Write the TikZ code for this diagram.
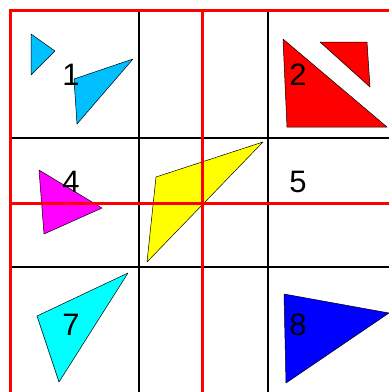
\documentclass[tikz,border=0pt]{standalone}
\usepackage{fontspec}
\setmainfont{Liberation Sans}
\definecolor{skyblue}{RGB}{0,191,255}
\definecolor{aqua}{RGB}{0,255,255}
\definecolor{fuchsia}{RGB}{255,0,255}
\definecolor{pureyellow}{RGB}{255,255,0}
\definecolor{purered}{RGB}{255,0,0}
\definecolor{pureblue}{RGB}{0,0,255}
\tikzset{
  piece/.style={draw=black,line width=0.5pt,line join=round},
  gridline/.style={draw=black,line width=1.5pt},
  redline/.style={draw=purered,line width=3pt},
  numlabel/.style={inner sep=0pt,font=\fontsize{31}{31}\selectfont}
}
\begin{document}
\begin{tikzpicture}[x=1pt,y=-1pt]
\useasboundingbox (0,0) rectangle (389,392);
\fill[white] (0,0) rectangle (389,392);

% pieces
\filldraw[piece,fill=skyblue] (31,34)--(55,51)--(31,75)--cycle;
\filldraw[piece,fill=skyblue] (74,79)--(133,59)--(77,124)--cycle;
\filldraw[piece,fill=purered] (283,39)--(387,127)--(287,127)--cycle;
\filldraw[piece,fill=purered] (320,42)--(367,42)--(370,87)--cycle;
\filldraw[piece,fill=fuchsia] (39,170)--(102,208)--(44,234)--cycle;
\filldraw[piece,fill=pureyellow] (156,177)--(263,142)--(147,262)--cycle;
\filldraw[piece,fill=aqua] (37,316)--(128,273)--(59,382)--cycle;
\filldraw[piece,fill=pureblue] (284,294)--(389,313)--(286,383)--cycle;

% grid
\draw[gridline] (139,10)--(139,392);
\draw[gridline] (268,10)--(268,392);
\draw[gridline] (10,138)--(389,138);
\draw[gridline] (10,267)--(389,267);
\draw[redline] (10,392)--(10,10)--(389,10);
\draw[redline] (202.5,10)--(202.5,392);
\draw[redline] (10,203.5)--(389,203.5);

% numbers
\node[numlabel] (n1) at (71,75) {1};
\node[numlabel] (n2) at (298,75) {2};
\node[numlabel] (n4) at (71,182) {4};
\node[numlabel] (n5) at (298,182) {5};
\node[numlabel] (n7) at (71,325) {7};
\node[numlabel] (n8) at (298,325) {8};
\end{tikzpicture}
\end{document}
